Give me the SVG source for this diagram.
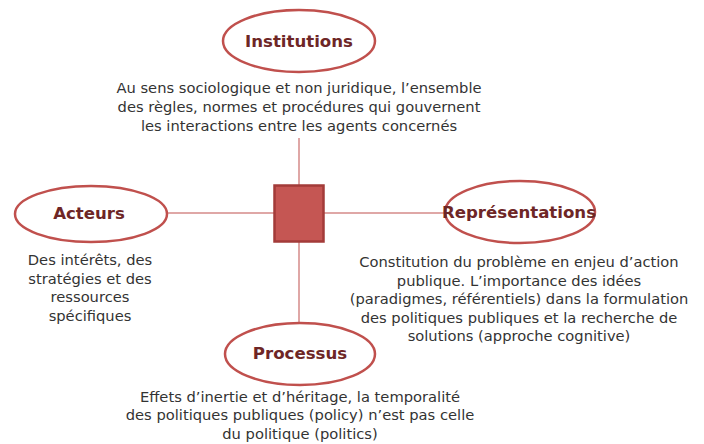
<svg xmlns="http://www.w3.org/2000/svg" width="704" height="444" viewBox="0 0 704 444">
<style>
.oval{fill:#ffffff;stroke:#c0504d;stroke-width:2.5}
.lbl{font-family:"DejaVu Sans",Verdana,sans-serif;font-weight:bold;font-size:16.6px;fill:#6e2626;text-anchor:middle}
.desc{font-family:"DejaVu Sans",Verdana,sans-serif;font-size:14.7px;fill:#333333;text-anchor:middle}
.conn{stroke:#d48a88;stroke-width:1.5;fill:none}
</style>
<rect width="704" height="444" fill="#ffffff"/>
<g id="connectors">
<line class="conn" x1="299" y1="138" x2="299" y2="185"/>
<line class="conn" x1="299" y1="241" x2="299" y2="323"/>
<line class="conn" x1="167" y1="213" x2="274" y2="213"/>
<line class="conn" x1="323" y1="213" x2="445" y2="213"/>
</g>
<g id="center">
<rect x="274.5" y="185.5" width="49" height="56" fill="#c55653" stroke="#a33b39" stroke-width="2.5"/>
</g>
<g id="institutions">
<ellipse class="oval" cx="299" cy="41" rx="76" ry="31"/>
<text class="lbl" x="299" y="47">Institutions</text>
<text class="desc" x="299" y="93">Au sens sociologique et non juridique, l’ensemble</text>
<text class="desc" x="299" y="112">des règles, normes et procédures qui gouvernent</text>
<text class="desc" x="299" y="131">les interactions entre les agents concernés</text>
</g>
<g id="acteurs">
<ellipse class="oval" cx="91" cy="214" rx="76" ry="28"/>
<text class="lbl" x="89" y="219">Acteurs</text>
<text class="desc" x="90" y="265">Des intérêts, des</text>
<text class="desc" x="90" y="284">stratégies et des</text>
<text class="desc" x="90" y="302">ressources</text>
<text class="desc" x="90" y="321">spécifiques</text>
</g>
<g id="representations">
<ellipse class="oval" cx="520" cy="212" rx="75" ry="31"/>
<text class="lbl" x="519" y="218">Représentations</text>
<text class="desc" x="519" y="267">Constitution du problème en enjeu d’action</text>
<text class="desc" x="519" y="286">publique. L’importance des idées</text>
<text class="desc" x="519" y="304">(paradigmes, référentiels) dans la formulation</text>
<text class="desc" x="519" y="323">des politiques publiques et la recherche de</text>
<text class="desc" x="519" y="341">solutions (approche cognitive)</text>
</g>
<g id="processus">
<ellipse class="oval" cx="300" cy="354" rx="75" ry="31"/>
<text class="lbl" x="300" y="359">Processus</text>
<text class="desc" x="300" y="402">Effets d’inertie et d’héritage, la temporalité</text>
<text class="desc" x="300" y="420">des politiques publiques (policy) n’est pas celle</text>
<text class="desc" x="300" y="439">du politique (politics)</text>
</g>
</svg>
